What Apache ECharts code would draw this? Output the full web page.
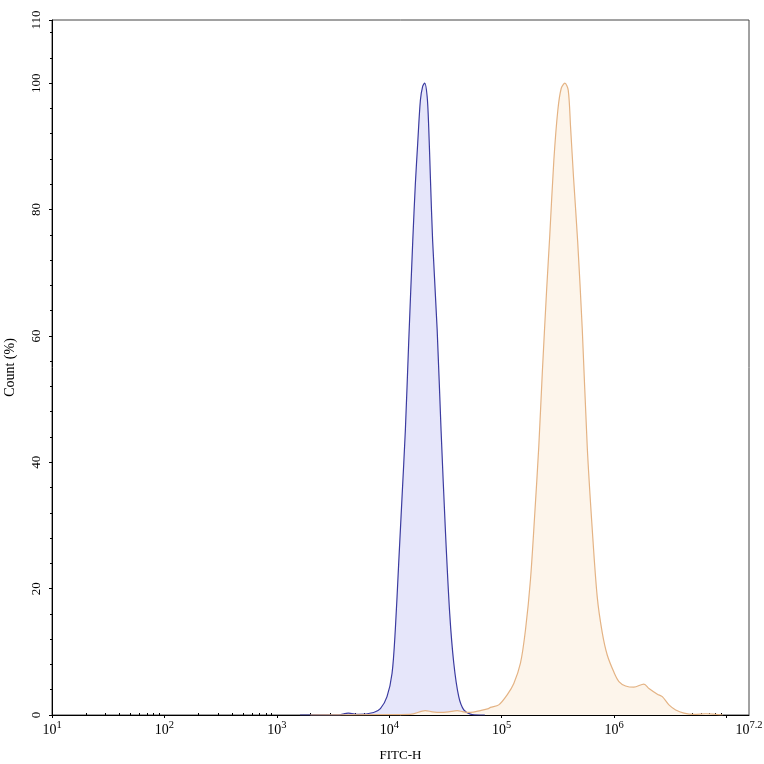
<!DOCTYPE html>
<html>
<head>
<meta charset="utf-8">
<script src="https://cdn.jsdelivr.net/npm/echarts@6/dist/echarts.min.js"></script>
<style>
  html, body { margin: 0; padding: 0; background: #fff; }
  #chart { width: 764px; height: 764px; }
</style>
</head>
<body>
<div id="chart"></div>
<script>
// FITC-H intensity (raw) and count (%)
let blueX = [1610, 3450, 4330, 5310, 7260, 8340, 9550, 10590, 11320, 12130, 13000, 13900,
  14890, 16180, 17060, 17910, 18920, 19820, 20650, 21730, 22440, 23230, 24320, 26670,
  28910, 31620, 34510, 37500, 41500, 46030, 52720, 64710, 70800];
let blueY = [0, 0, 0.3, 0.1, 0.4, 1.0, 2.9, 6.6, 13.5, 24, 34.6, 45,
  59, 75, 84, 90.5, 97.3, 99.5, 100, 97.9, 93, 85, 75, 61,
  45, 29, 16, 8.2, 2.9, 0.8, 0.15, 0, 0];

let orangeX = [1980, 8340, 15420, 20940, 24210, 28510, 33570, 40180, 45710, 52720, 64710,
  76210, 79430, 94190, 111900, 128200, 146900, 162900, 180300, 197200, 213800, 229600,
  250600, 268000, 291100, 316200, 338800, 364800, 390800, 410200, 436000, 474000,
  521200, 576800, 639700, 707900, 785200, 869000, 995400, 1104000, 1265000, 1500000,
  1841000, 2042000, 2427000, 2685000, 3076000, 3532000, 4188000, 5140000, 6531000,
  8017000, 9247000];
let orangeY = [0, 0.05, 0.1, 0.7, 0.5, 0.4, 0.5, 0.7, 0.5, 0.4, 0.7,
  1.0, 1.2, 1.6, 3.2, 5, 8.2, 13.5, 21.4, 32, 42.5, 54,
  67, 76, 87.8, 95.8, 99.2, 100, 98.9, 93, 85, 75,
  61, 42.5, 29.3, 18.7, 13, 9.5, 6.8, 5.3, 4.6, 4.4,
  4.9, 4.2, 3.3, 2.9, 1.6, 0.8, 0.3, 0.1, 0.2,
  0.1, 0];

// axis decades (exponents of 10) and y tick labels
let decades = [1, 2, 3, 4, 5, 6, 7];
let xLabelExp = [1, 2, 3, 4, 5, 6, 7.2];
let yTicks = [0, 20, 40, 60, 80, 100, 110];

let minorX = [];
decades.forEach(d => {
  for (let k = 2; k <= 9; k++) {
    let v = d + Math.log10(k);
    if (v < 7.2) minorX.push(v);
  }
});

function toPoints(xs, ys) {
  return xs.map((x, i) => [Math.log10(x), ys[i]]);
}

let font = "'Liberation Serif', 'Times New Roman', serif";
let chart = echarts.init(document.getElementById('chart'), null, { renderer: 'canvas' });

let option = {
  animation: false,
  backgroundColor: '#fff',
  grid: {
    left: 52, right: 15, top: 20, bottom: 49,
    outerBoundsMode: 'none', containLabel: false,
    show: true, borderColor: '#444', borderWidth: 1
  },
  xAxis: [
    {
      type: 'value', min: 1, max: 7.2, position: 'bottom',
      name: 'FITC-H', nameLocation: 'middle', nameGap: 34,
      nameTextStyle: { fontFamily: font, fontSize: 13, color: '#000' },
      axisLine: { show: true, lineStyle: { color: '#000', width: 1 } },
      axisTick: { show: true, length: 3, customValues: decades, lineStyle: { color: '#000' } },
      splitLine: { show: false },
      axisLabel: {
        customValues: xLabelExp, margin: 5,
        formatter: function (v) {
          let e = Math.round(v * 10) / 10;
          return '{b|10}{s|' + e + '}';
        },
        rich: {
          b: { fontFamily: font, fontSize: 14, color: '#000', lineHeight: 17, verticalAlign: 'bottom' },
          s: { fontFamily: font, fontSize: 10.5, color: '#000', lineHeight: 17, verticalAlign: 'top', padding: [0, 0, 7, 0] }
        }
      }
    },
    {
      type: 'value', min: 1, max: 7.2, position: 'bottom',
      axisLine: { show: false },
      axisTick: { show: true, inside: true, length: 2, customValues: minorX, lineStyle: { color: '#000' } },
      axisLabel: { show: false },
      splitLine: { show: false }
    }
  ],
  yAxis: {
    type: 'value', min: 0, max: 110, interval: 20,
    name: 'Count (%)', nameLocation: 'middle', nameGap: 35, nameRotate: 90,
    nameTextStyle: { fontFamily: font, fontSize: 14, color: '#000' },
    axisLine: { show: true, lineStyle: { color: '#000', width: 1 } },
    axisTick: { show: true, length: 3, customValues: yTicks, lineStyle: { color: '#000' } },
    minorTick: { show: true, splitNumber: 5, length: 2, lineStyle: { color: '#000' } },
    splitLine: { show: false },
    minorSplitLine: { show: false },
    axisLabel: {
      customValues: yTicks, rotate: 90, margin: 9,
      fontFamily: font, fontSize: 13, color: '#000'
    }
  },
  series: [
    {
      type: 'line', name: 'control', xAxisIndex: 0,
      data: toPoints(blueX, blueY),
      smooth: 0.3, showSymbol: false, symbol: 'none',
      lineStyle: { color: '#3b3ba0', width: 1.2 },
      areaStyle: { color: '#e6e6fa', opacity: 1 }
    },
    {
      type: 'line', name: 'sample', xAxisIndex: 0,
      data: toPoints(orangeX, orangeY),
      smooth: 0.3, showSymbol: false, symbol: 'none',
      lineStyle: { color: '#e4b384', width: 1.2 },
      areaStyle: { color: '#fdf5eb', opacity: 1 }
    }
  ]
};

chart.setOption(option);
</script>
</body>
</html>
